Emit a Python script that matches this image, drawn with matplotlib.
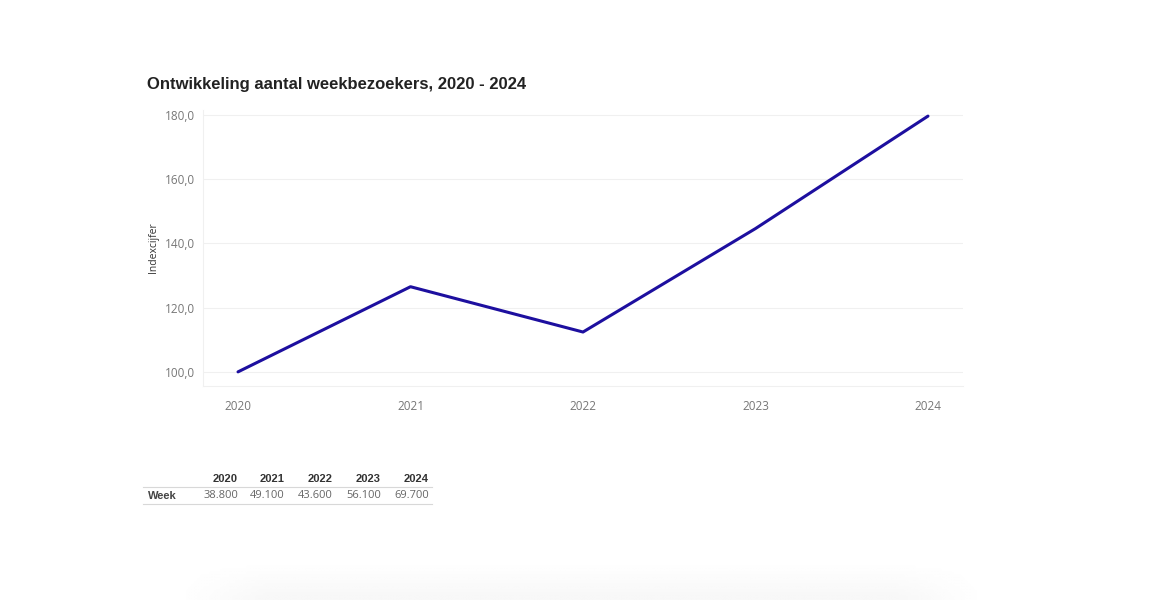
import numpy as np
import matplotlib.pyplot as plt

plt.rcParams['font.family'] = ['Liberation Sans', 'DejaVu Sans']

# Data
jaren = [2020, 2021, 2022, 2023, 2024]
index = [100.0, 126.5, 112.4, 144.6, 179.6]
week_bezoekers = ['38.800', '49.100', '43.600', '56.100', '69.700']
y_ticks = [100, 120, 140, 160, 180]

W, H = 1151, 600
fig = plt.figure(figsize=(W / 100, H / 100), dpi=100)

# Faint shadow at the bottom
bg = fig.add_axes([0, 0, 1, 1], zorder=-5)
yy = np.linspace(0, 1, 200)[:, None]
xx = np.linspace(0, 1, 400)[None, :]
shade = np.clip((yy - 0.94) / 0.06, 0, 1) * np.clip(np.minimum(xx - 0.15, 0.86 - xx) / 0.08, 0, 1)
bg.imshow(1 - 0.03 * shade, cmap='gray', vmin=0, vmax=1, extent=[0, 1, 1, 0], aspect='auto')
bg.axis('off')

ax = fig.add_axes([203 / W, 1 - 386 / H, 760 / W, 276 / H])
ax.plot(jaren, index, color='#1d0f9f', linewidth=2.2, solid_capstyle='round')
ax.set_xlim(2019.797, 2024.203)
ax.set_ylim(95.6, 181.5)
ax.set_xticks(jaren)
ax.set_xticklabels([str(j) for j in jaren])
ax.set_yticks(y_ticks)
ax.set_yticklabels([f'{v:.1f}'.replace('.', ',') for v in y_ticks])
ax.tick_params(colors='#777777', labelsize=8.5, length=0, pad=10)
ax.tick_params(axis='y', pad=6)
for lbl in ax.get_xticklabels() + ax.get_yticklabels():
    lbl.set_family(['Open Sans', 'DejaVu Sans'])
ax.grid(axis='y', color='#f0f0f0', linewidth=0.8)
for s in ['top', 'right']:
    ax.spines[s].set_visible(False)
for s in ['left', 'bottom']:
    ax.spines[s].set_color('#f0f0f0')
ax.set_ylabel('Indexcijfer', fontsize=7.5, color='#333333', labelpad=4,
             family=['Open Sans', 'DejaVu Sans'])

fig.text(147 / W, 1 - 84 / H, 'Ontwikkeling aantal weekbezoekers, 2020 - 2024',
         fontsize=12, fontweight='bold', color='#222222', va='center')

# Table
col_right = [238, 285, 333, 381, 429]
for x, j, v in zip(col_right, jaren, week_bezoekers):
    fig.text(x / W, 1 - 479 / H, str(j), fontsize=8, fontweight='bold',
             color='#333333', ha='right', va='center')
    fig.text(x / W, 1 - 496 / H, v, fontsize=8, color='#666666', ha='right', va='center',
             family=['Open Sans', 'DejaVu Sans'])
fig.text(148 / W, 1 - 496 / H, 'Week', fontsize=8, fontweight='bold',
         color='#444444', ha='left', va='center')
for y in [487, 504]:
    fig.add_artist(plt.Line2D([143 / W, 432 / W], [1 - y / H, 1 - y / H],
                              color='#d8d8d8', linewidth=0.8))

fig.savefig('out.png', dpi=100, facecolor='white')
